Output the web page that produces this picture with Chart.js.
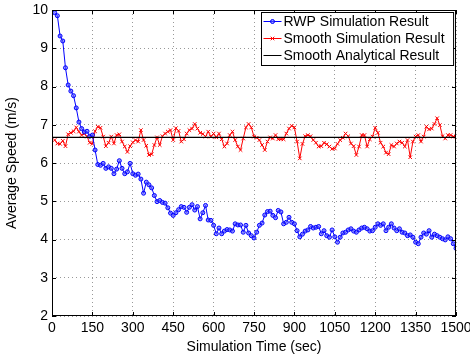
<!DOCTYPE html>
<html>
<head>
<meta charset="utf-8">
<script src="https://cdn.jsdelivr.net/npm/chart.js@4.4.1/dist/chart.umd.min.js"></script>
<style>
  html, body { margin: 0; padding: 0; background: #fff; }
  #wrap { width: 470px; height: 360px; }
</style>
</head>
<body>
<div id="wrap"><canvas id="chart"></canvas></div>
<script>
// sample times (sec), one sample every 10 s
const times = [
  10, 20, 30, 40, 50, 60, 70, 80, 90, 100, 110, 120, 130, 140, 150,
  160, 170, 180, 190, 200, 210, 220, 230, 240, 250, 260, 270, 280, 290, 300,
  310, 320, 330, 340, 350, 360, 370, 380, 390, 400, 410, 420, 430, 440, 450,
  460, 470, 480, 490, 500, 510, 520, 530, 540, 550, 560, 570, 580, 590, 600,
  610, 620, 630, 640, 650, 660, 670, 680, 690, 700, 710, 720, 730, 740, 750,
  760, 770, 780, 790, 800, 810, 820, 830, 840, 850, 860, 870, 880, 890, 900,
  910, 920, 930, 940, 950, 960, 970, 980, 990, 1000, 1010, 1020, 1030, 1040, 1050,
  1060, 1070, 1080, 1090, 1100, 1110, 1120, 1130, 1140, 1150, 1160, 1170, 1180, 1190, 1200,
  1210, 1220, 1230, 1240, 1250, 1260, 1270, 1280, 1290, 1300, 1310, 1320, 1330, 1340, 1350,
  1360, 1370, 1380, 1390, 1400, 1410, 1420, 1430, 1440, 1450, 1460, 1470, 1480, 1490, 1500
];

// RWP simulation result (m/s)
const rwpSpeed = [
  9.93, 9.85, 9.32, 9.19, 8.49, 8.04, 7.88, 7.76, 7.44, 7.07,
  6.90, 6.81, 6.83, 6.70, 6.73, 6.34, 5.96, 5.94, 5.99, 5.86,
  5.90, 5.86, 5.72, 5.84, 6.06, 5.86, 5.72, 5.77, 5.99, 5.72,
  5.68, 5.71, 5.58,
  5.21, 5.50, 5.43, 5.35, 5.15, 4.99, 5.02, 4.97, 4.95, 4.83,
  4.69, 4.63, 4.70, 4.78, 4.86, 4.84, 4.71, 4.84, 4.91, 4.77,
  4.86, 4.54, 4.70, 4.89, 4.51, 4.50, 4.37, 4.15, 4.30, 4.15,
  4.22, 4.26, 4.25, 4.22, 4.41, 4.38,
  4.38, 4.19, 4.37, 4.17, 4.10, 4.04, 4.19, 4.37, 4.43, 4.64,
  4.73, 4.74, 4.63, 4.57, 4.76, 4.72, 4.41, 4.45, 4.58, 4.45,
  4.41, 4.23, 4.07, 4.14, 4.22, 4.25, 4.34, 4.30, 4.32, 4.34,
  4.15, 4.23, 4.10, 4.06, 4.25, 4.07, 3.93, 4.06, 4.17, 4.19,
  4.25, 4.28, 4.22, 4.19, 4.25, 4.30, 4.32, 4.28, 4.22, 4.23,
  4.32, 4.41, 4.37, 4.41, 4.23, 4.32, 4.41, 4.30, 4.23, 4.28,
  4.19, 4.17, 4.10, 4.12, 4.06, 3.93, 3.89, 4.06, 4.17, 4.14,
  4.23, 4.06, 4.14, 4.10, 4.06, 4.02, 3.99, 4.07, 4.02, 3.89,
  3.77
];

// Smooth simulation result (m/s)
const smoothSpeed = [
  6.60, 6.51, 6.50, 6.58, 6.44, 6.75, 6.79, 6.83, 6.93, 6.82,
  6.73, 6.77, 6.69, 6.53, 6.50, 6.83, 6.95, 6.92, 6.69, 6.44,
  6.53, 6.69, 6.51, 6.73, 6.75, 6.56, 6.43, 6.29, 6.44, 6.54,
  6.60, 6.56, 6.86, 6.60, 6.45, 6.21, 6.23, 6.47, 6.67, 6.47,
  6.70, 6.77, 6.82, 6.86, 6.60, 6.91, 6.84, 6.56, 6.62, 6.77,
  6.86, 6.90, 7.02, 6.90, 6.79, 6.76, 6.69, 6.82, 6.69, 6.77,
  6.67, 6.77, 6.62, 6.43, 6.51, 6.73, 6.82, 6.60, 6.43,
  6.34, 6.64, 6.93, 7.02, 6.93, 6.69, 6.66, 6.60, 6.47, 6.34,
  6.56, 6.67, 6.64, 6.73, 6.62, 6.62, 6.62, 6.77, 6.90, 6.97,
  6.93, 6.56, 6.12, 6.50, 6.70, 6.73, 6.70, 6.60, 6.53, 6.43,
  6.44, 6.53, 6.49, 6.43, 6.37, 6.38, 6.50, 6.60, 6.66, 6.77,
  6.70, 6.51, 6.44, 6.21, 6.43, 6.73, 6.73, 6.43, 6.62, 6.69,
  6.92, 6.79, 6.53, 6.43, 6.27, 6.23, 6.47, 6.43, 6.51, 6.56,
  6.53, 6.43, 6.60, 6.15, 6.56, 6.69, 6.73, 6.56, 6.69, 6.95,
  6.88, 6.90, 7.02, 7.17, 6.99, 6.70, 6.64, 6.73, 6.73, 6.69,
  6.69
];

// Smooth analytical result (m/s), constant over the run
const analyticalTimes = [0, 1500];
const analyticalSpeed = [6.67, 6.67];

const seriesLabels = ['RWP Simulation Result', 'Smooth Simulation Result', 'Smooth Analytical Result'];
const xTitle = 'Simulation Time (sec)';
const yTitle = 'Average Speed (m/s)';

const FONT = "'Liberation Sans', Arial, Helvetica, sans-serif";

function toPoints(xs, ys) {
  return xs.map((x, i) => ({ x: x, y: ys[i] }));
}

// MATLAB style box: frame, inward ticks, boxed legend top right
const matlabBox = {
  id: 'matlabBox',
  afterDraw(chart) {
    const ctx = chart.ctx;
    const a = chart.chartArea;
    const sx = chart.scales.x;
    const sy = chart.scales.y;
    ctx.save();
    ctx.strokeStyle = '#000';
    ctx.lineWidth = 1;
    ctx.strokeRect(a.left + 0.5, a.top + 0.5, a.width - 1, a.height - 1);

    ctx.beginPath();
    sx.ticks.forEach(t => {
      const px = Math.round(sx.getPixelForValue(t.value)) + 0.5;
      ctx.moveTo(px, a.bottom); ctx.lineTo(px, a.bottom - 4);
      ctx.moveTo(px, a.top); ctx.lineTo(px, a.top + 4);
    });
    sy.ticks.forEach(t => {
      const py = Math.round(sy.getPixelForValue(t.value)) + 0.5;
      ctx.moveTo(a.left, py); ctx.lineTo(a.left + 4, py);
      ctx.moveTo(a.right, py); ctx.lineTo(a.right - 4, py);
    });
    ctx.stroke();

    // legend
    ctx.font = '14px ' + FONT;
    const sets = chart.data.datasets;
    let maxW = 0;
    sets.forEach(d => { maxW = Math.max(maxW, ctx.measureText(d.label).width); });
    const rowH = 17;
    const w = 22 + maxW + 9;
    const h = sets.length * rowH + 2;
    const x0 = Math.round(a.right - 3 - w) + 0.5;
    const y0 = Math.round(a.top + 2) + 0.5;
    ctx.fillStyle = '#fff';
    ctx.fillRect(x0, y0, w, h);
    ctx.lineWidth = 1;
    ctx.strokeStyle = '#000';
    ctx.strokeRect(x0, y0, w, h);
    sets.forEach((d, i) => {
      const cy = y0 + 9 + i * rowH;
      ctx.strokeStyle = d.borderColor;
      ctx.lineWidth = 1;
      ctx.beginPath();
      ctx.moveTo(x0 + 2, cy); ctx.lineTo(x0 + 20, cy);
      ctx.stroke();
      if (d.pointRadius > 0) {
        ctx.fillStyle = d.pointBackgroundColor;
        ctx.strokeStyle = d.borderColor;
        Chart.helpers.drawPoint(ctx, {
          pointStyle: d.pointStyle,
          radius: d.pointRadius,
          rotation: 0,
          borderWidth: 1
        }, x0 + 11, cy);
      }
      ctx.fillStyle = '#000';
      ctx.textBaseline = 'middle';
      ctx.textAlign = 'left';
      ctx.fillText(d.label, x0 + 22, cy + 1);
    });
    ctx.restore();
  }
};

const plainNumber = v => String(v);

new Chart(document.getElementById('chart').getContext('2d'), {
  type: 'line',
  data: {
    datasets: [{
      label: seriesLabels[0],
      data: toPoints(times, rwpSpeed),
      borderColor: '#0000ff',
      backgroundColor: '#0000ff',
      borderWidth: 1,
      pointStyle: 'circle',
      pointRadius: 2,
      pointBorderWidth: 1,
      pointBackgroundColor: 'rgba(90,90,255,0.6)',
      order: 1
    }, {
      label: seriesLabels[1],
      data: toPoints(times, smoothSpeed),
      borderColor: '#ff0000',
      backgroundColor: '#ff0000',
      borderWidth: 1,
      pointStyle: 'crossRot',
      pointRadius: 2.5,
      pointBorderWidth: 1,
      pointBackgroundColor: '#ff0000',
      order: 2
    }, {
      label: seriesLabels[2],
      data: toPoints(analyticalTimes, analyticalSpeed),
      borderColor: '#000000',
      backgroundColor: '#000000',
      borderWidth: 1.3,
      pointRadius: 0,
      order: 0
    }]
  },
  options: {
    responsive: true,
    maintainAspectRatio: false,
    animation: false,
    layout: { padding: { top: 10, right: 14, left: 0, bottom: 0 } },
    plugins: {
      legend: { display: false },
      tooltip: { enabled: false }
    },
    elements: { line: { tension: 0 } },
    scales: {
      x: {
        type: 'linear',
        min: 0,
        max: 1500,
        ticks: {
          stepSize: 150,
          color: '#000',
          padding: 4,
          maxRotation: 0,
          autoSkip: false,
          callback: plainNumber,
          font: { family: FONT, size: 14 }
        },
        grid: { color: 'rgba(0,0,0,0.4)', lineWidth: 1, drawTicks: false },
        border: { display: false, dash: [1, 3] },
        title: {
          display: true,
          text: xTitle,
          color: '#000',
          padding: { top: 2, bottom: 4 },
          font: { family: FONT, size: 14 }
        },
        afterFit(scale) {
          scale.height = 44;
          scale.paddingLeft = 0;
          scale.paddingRight = 0;
        }
      },
      y: {
        type: 'linear',
        min: 2,
        max: 10,
        ticks: {
          stepSize: 1,
          color: '#000',
          padding: 4,
          callback: plainNumber,
          font: { family: FONT, size: 14 }
        },
        grid: { color: 'rgba(0,0,0,0.4)', lineWidth: 1, drawTicks: false },
        border: { display: false, dash: [1, 3] },
        title: {
          display: true,
          text: yTitle,
          color: '#000',
          padding: { top: 4, bottom: 2 },
          font: { family: FONT, size: 14 }
        },
        afterFit(scale) {
          scale.width = 52;
          scale.paddingTop = 0;
          scale.paddingBottom = 0;
        }
      }
    }
  },
  plugins: [matlabBox]
});
</script>
</body>
</html>
